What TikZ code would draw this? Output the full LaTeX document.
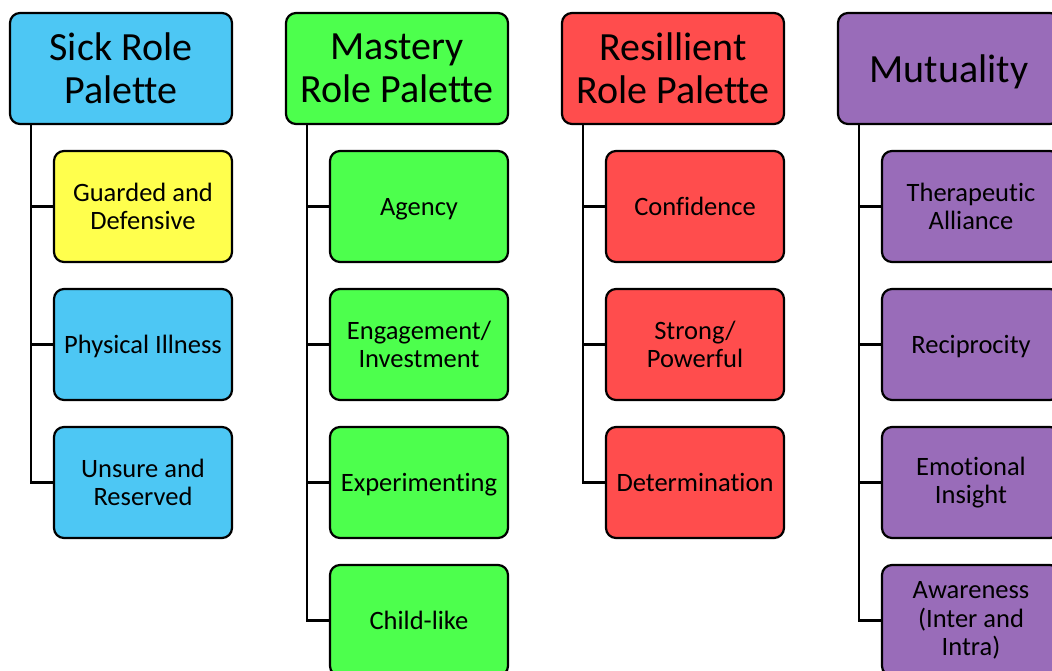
\documentclass[tikz,border=0pt]{standalone}
\usepackage{fontspec}
\setmainfont[Ligatures={NoCommon}]{Carlito}
\definecolor{sickblue}{RGB}{77,199,244}
\definecolor{guardyellow}{RGB}{255,255,77}
\definecolor{masterygreen}{RGB}{77,255,77}
\definecolor{resilientred}{RGB}{255,77,77}
\definecolor{mutualpurple}{RGB}{153,108,185}
\tikzset{
  header/.style={draw=black, line width=2.2pt, rounded corners=10pt,
    minimum width=222pt, minimum height=111pt, align=center,
    font=\fontsize{40}{43}\selectfont, inner sep=0pt},
  item/.style={draw=black, line width=2.2pt, rounded corners=10pt,
    minimum width=178pt, minimum height=111pt, align=center,
    font=\fontsize{26.5}{28.5}\selectfont, inner sep=0pt},
  oneline/.style={text height=18.5pt, text depth=0pt},
  onelinebig/.style={text height=28pt, text depth=0pt},
  trunk/.style={line width=2.2pt, draw=black}
}
\begin{document}
\begin{tikzpicture}[x=1pt, y=-1pt]
\useasboundingbox (0,0) rectangle (1052,671);

% column headers
\node[header, fill=sickblue]      (h1) at (121,68.5) {Sick Role\\Palette};
\node[header, fill=masterygreen]  (h2) at (397,68.5) {Mastery\\Role Palette};
\node[header, fill=resilientred]  (h3) at (673,68.5) {Resillient\\Role Palette};
\node[header, onelinebig, fill=mutualpurple] (h4) at (949,68.5) {Mutuality};

% Sick Role items
\node[item, fill=guardyellow] (a1) at (143,206.5) {Guarded and\\Defensive};
\node[item, oneline, fill=sickblue] (a2) at (143,344.5) {Physical Illness};
\node[item, fill=sickblue]    (a3) at (143,482.5) {Unsure and\\Reserved};

% Mastery items
\node[item, oneline, fill=masterygreen] (b1) at (419,206.5) {Agency};
\node[item, fill=masterygreen] (b2) at (419,344.5) {Engagement/\\Investment};
\node[item, oneline, fill=masterygreen] (b3) at (419,482.5) {Experimenting};
\node[item, oneline, fill=masterygreen] (b4) at (419,620.5) {Child-like};

% Resilient items
\node[item, oneline, fill=resilientred] (c1) at (695,206.5) {Confidence};
\node[item, fill=resilientred] (c2) at (695,344.5) {Strong/\\Powerful};
\node[item, oneline, fill=resilientred] (c3) at (695,482.5) {Determination};

% Mutuality items
\node[item, fill=mutualpurple] (d1) at (971,206.5) {Therapeutic\\Alliance};
\node[item, oneline, fill=mutualpurple] (d2) at (971,344.5) {Reciprocity};
\node[item, fill=mutualpurple] (d3) at (971,482.5) {Emotional\\Insight};
\node[item, fill=mutualpurple] (d4) at (971,620.5) {Awareness\\(Inter and\\Intra)};

% tree connectors
\draw[trunk] (h1.south west) ++(22,0) |- (a3.west);
\draw[trunk] (h1.south west) ++(22,0) |- (a1.west);
\draw[trunk] (h1.south west) ++(22,0) |- (a2.west);

\draw[trunk] (h2.south west) ++(22,0) |- (b4.west);
\draw[trunk] (h2.south west) ++(22,0) |- (b1.west);
\draw[trunk] (h2.south west) ++(22,0) |- (b2.west);
\draw[trunk] (h2.south west) ++(22,0) |- (b3.west);

\draw[trunk] (h3.south west) ++(22,0) |- (c3.west);
\draw[trunk] (h3.south west) ++(22,0) |- (c1.west);
\draw[trunk] (h3.south west) ++(22,0) |- (c2.west);

\draw[trunk] (h4.south west) ++(22,0) |- (d4.west);
\draw[trunk] (h4.south west) ++(22,0) |- (d1.west);
\draw[trunk] (h4.south west) ++(22,0) |- (d2.west);
\draw[trunk] (h4.south west) ++(22,0) |- (d3.west);
\end{tikzpicture}
\end{document}
